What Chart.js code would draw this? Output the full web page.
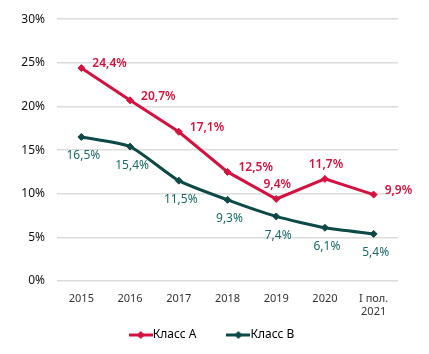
<!DOCTYPE html>
<html lang="ru">
<head>
<meta charset="utf-8">
<title>Класс А / Класс В</title>
<script src="https://cdn.jsdelivr.net/npm/chart.js@4/dist/chart.umd.min.js"></script>
<style>
  html, body { margin: 0; padding: 0; background: #fff; }
  #wrap { position: relative; width: 429px; height: 354px; }
</style>
</head>
<body>
<div id="wrap"><canvas id="chart" width="429" height="354"></canvas></div>
<script>
  /* ===== Data ===== */
  const categories = ['2015', '2016', '2017', '2018', '2019', '2020', ['I пол.', '2021']];
  const classA = [24.4, 20.7, 17.1, 12.5, 9.4, 11.7, 9.9];
  const classB = [16.5, 15.4, 11.5, 9.3, 7.4, 6.1, 5.4];
  const yTicks = [0, 5, 10, 15, 20, 25, 30];

  const RED = '#d4123f';
  const TEAL = '#0d4a47';
  const TEAL_TEXT = '#1b6a68';
  const FONT = '"Noto Sans", "Open Sans", sans-serif';

  // label placement for each point: 'right' or 'top' (A), 'bottom' (B)
  const anchorA = ['right', 'right', 'right', 'right', 'top', 'top', 'right'];

  function fmt(v) {
    return v.toFixed(1).replace('.', ',') + '%';
  }

  // legend swatch: line with a diamond in the middle
  function legendIcon(color) {
    const c = document.createElement('canvas');
    c.width = 24; c.height = 10;
    const g = c.getContext('2d');
    g.strokeStyle = color;
    g.lineWidth = 3;
    g.beginPath(); g.moveTo(0, 5); g.lineTo(24, 5); g.stroke();
    g.fillStyle = color;
    g.beginPath();
    g.moveTo(12, 1); g.lineTo(16, 5); g.lineTo(12, 9); g.lineTo(8, 5);
    g.closePath(); g.fill();
    return c;
  }

  const valueLabels = {
    id: 'valueLabels',
    afterDatasetsDraw(chart) {
      const ctx = chart.ctx;
      ctx.save();
      chart.data.datasets.forEach((ds, di) => {
        const meta = chart.getDatasetMeta(di);
        meta.data.forEach((pt, i) => {
          const text = fmt(ds.data[i]);
          if (di === 0) {
            ctx.fillStyle = RED;
            ctx.font = '600 12px ' + FONT;
            ctx.textBaseline = 'middle';
            if (anchorA[i] === 'top') {
              ctx.textAlign = 'center';
              ctx.fillText(text, pt.x + 1, pt.y - 14);
            } else {
              ctx.textAlign = 'left';
              ctx.fillText(text, pt.x + 11, pt.y - 4);
            }
          } else {
            ctx.fillStyle = TEAL_TEXT;
            ctx.font = '12px ' + FONT;
            ctx.textBaseline = 'middle';
            ctx.textAlign = 'center';
            ctx.fillText(text, pt.x + 2, pt.y + 19);
          }
        });
      });
      ctx.restore();
    }
  };

  new Chart(document.getElementById('chart'), {
    type: 'line',
    data: {
      labels: categories,
      datasets: [
        {
          label: 'Класс А',
          data: classA,
          borderColor: RED,
          backgroundColor: RED,
          borderWidth: 3,
          pointStyle: 'rectRot',
          pointRadius: 3.5,
          pointBorderWidth: 1,
          tension: 0
        },
        {
          label: 'Класс В',
          data: classB,
          borderColor: TEAL,
          backgroundColor: TEAL,
          borderWidth: 3,
          pointStyle: 'rectRot',
          pointRadius: 3.5,
          pointBorderWidth: 1,
          tension: 0.2
        }
      ]
    },
    options: {
      responsive: false,
      animation: false,
      layout: { padding: { left: 0, right: 0, top: 15, bottom: 3 } },
      scales: {
        x: {
          offset: true,
          grid: { display: false, drawTicks: false },
          border: { display: false },
          ticks: {
            color: '#333',
            font: { family: FONT, size: 11 },
            padding: 11,
            maxRotation: 0,
            autoSkip: false
          },
          afterFit(scale) { scale.height = 42; }
        },
        y: {
          min: 0,
          max: 30,
          afterBuildTicks(scale) { scale.ticks = yTicks.map(v => ({ value: v })); },
          grid: { color: '#dcdcdc', lineWidth: 1.5, drawTicks: false },
          border: { display: false },
          ticks: {
            color: '#111',
            font: { family: FONT, size: 12 },
            padding: 12,
            callback: v => v + '%'
          },
          afterFit(scale) { scale.width = 57; }
        },
        // empty right axis: keeps a margin right of the plot, legend stays centred on the page
        yRight: {
          position: 'right',
          min: 0,
          max: 30,
          grid: { display: false, drawTicks: false },
          border: { display: false },
          ticks: { display: false },
          afterFit(scale) { scale.width = 31; }
        }
      },
      plugins: {
        legend: {
          position: 'bottom',
          labels: {
            usePointStyle: true,
            color: '#222',
            font: { family: FONT, size: 12 },
            padding: 6,
            generateLabels(chart) {
              return chart.data.datasets.map((ds, i) => ({
                // spaces keep the gap between the two legend items
                text: i === 0 ? ds.label + '\u2003\u2003\u2002' : ds.label,
                pointStyle: legendIcon(ds.borderColor),
                fillStyle: ds.borderColor,
                strokeStyle: ds.borderColor,
                lineWidth: 0,
                datasetIndex: i,
                hidden: false
              }));
            }
          }
        },
        tooltip: { enabled: false }
      }
    },
    plugins: [valueLabels]
  });
</script>
</body>
</html>
